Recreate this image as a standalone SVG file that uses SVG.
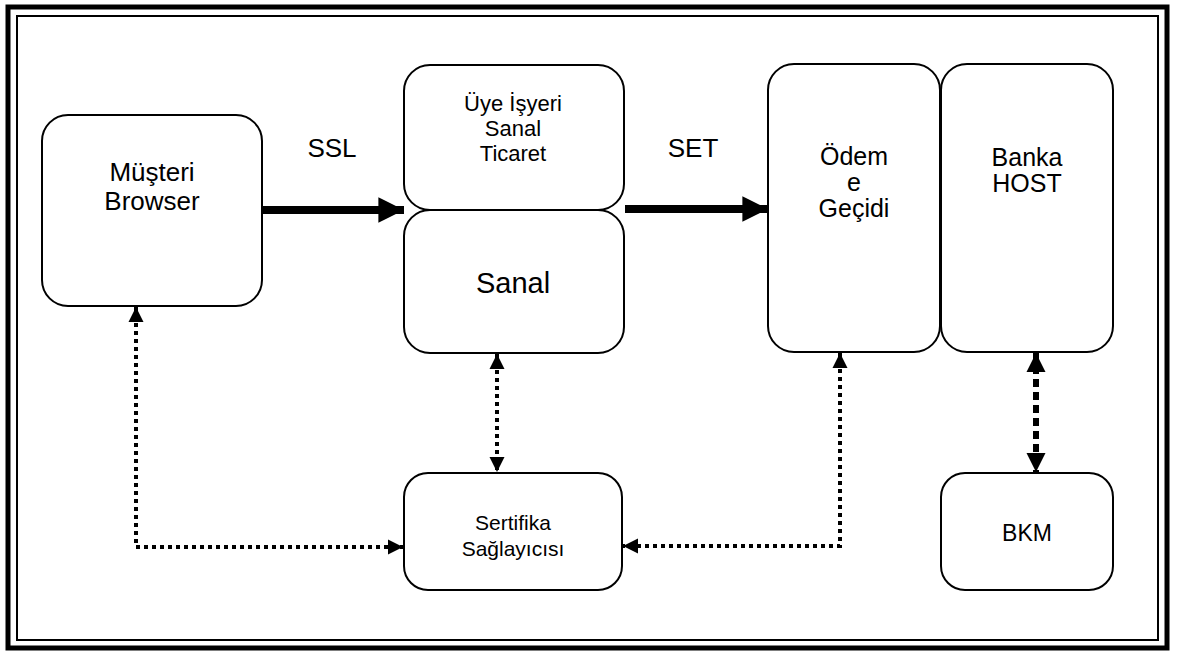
<svg xmlns="http://www.w3.org/2000/svg" width="1178" height="655" viewBox="0 0 1178 655">
  <defs>
    <style>
      .box { fill: #fff; stroke: #000; stroke-width: 2; }
      .lbl { font-family: "Liberation Sans", Arial, sans-serif; fill: #000; text-anchor: middle; }
      .dot { fill: none; stroke: #000; stroke-width: 4; stroke-dasharray: 4 4; }
      .dash { fill: none; stroke: #000; stroke-width: 6; stroke-dasharray: 8 5; }
      .thick { fill: none; stroke: #000; stroke-width: 8; }
    </style>
    <marker id="bigHead" viewBox="0 0 10 10" refX="10" refY="5" markerWidth="3.2" markerHeight="3.2" markerUnits="strokeWidth" orient="auto">
      <path d="M0,0 L10,5 L0,10 z" fill="#000"/>
    </marker>
    <marker id="dotHead" viewBox="0 0 10 10" refX="10" refY="5" markerWidth="3.8" markerHeight="3.8" markerUnits="strokeWidth" orient="auto-start-reverse">
      <path d="M0,0 L10,5 L0,10 z" fill="#000"/>
    </marker>
    <marker id="dashHead" viewBox="0 0 10 10" refX="10" refY="5" markerWidth="3.2" markerHeight="3.2" markerUnits="strokeWidth" orient="auto-start-reverse">
      <path d="M0,0 L10,5 L0,10 z" fill="#000"/>
    </marker>
  </defs>

  <rect width="1178" height="655" fill="#fff"/>

  <!-- double frame -->
  <g id="frame" fill="none" stroke="#000">
    <rect x="8" y="7" width="1159" height="641" stroke-width="5"/>
    <rect x="17" y="16" width="1141" height="624" stroke-width="2"/>
  </g>

  <g id="musteri">
    <rect class="box" x="42" y="115" width="220" height="191" rx="26"/>
    <text class="lbl" x="152" y="181" font-size="26">Müşteri</text>
    <text class="lbl" x="152" y="210" font-size="26">Browser</text>
  </g>

  <g id="uye-isyeri">
    <rect class="box" x="404" y="65" width="220" height="145" rx="26"/>
    <text class="lbl" x="513" y="111" font-size="22">Üye İşyeri</text>
    <text class="lbl" x="513" y="136" font-size="22">Sanal</text>
    <text class="lbl" x="513" y="161" font-size="22">Ticaret</text>
  </g>

  <g id="sanal">
    <rect class="box" x="404" y="210" width="220" height="143" rx="26"/>
    <text class="lbl" x="513" y="293" font-size="29">Sanal</text>
  </g>

  <g id="odeme-gecidi">
    <rect class="box" x="768" y="64" width="172" height="288" rx="26"/>
    <text class="lbl" x="854" y="165" font-size="25">Ödem</text>
    <text class="lbl" x="854" y="191" font-size="25">e</text>
    <text class="lbl" x="854" y="217" font-size="25">Geçidi</text>
  </g>

  <g id="banka-host">
    <rect class="box" x="941" y="64" width="172" height="288" rx="26"/>
    <text class="lbl" x="1027" y="166" font-size="25">Banka</text>
    <text class="lbl" x="1027" y="192" font-size="25">HOST</text>
  </g>

  <g id="sertifika">
    <rect class="box" x="404" y="473" width="218" height="117" rx="24"/>
    <text class="lbl" x="513" y="530" font-size="21">Sertifika</text>
    <text class="lbl" x="513" y="556" font-size="21">Sağlayıcısı</text>
  </g>

  <g id="bkm">
    <rect class="box" x="941" y="473" width="172" height="117" rx="24"/>
    <text class="lbl" x="1027" y="541" font-size="23">BKM</text>
  </g>

  <g id="connectors">
    <line class="thick" x1="262" y1="210" x2="404" y2="210" marker-end="url(#bigHead)"/>
    <text class="lbl" x="332" y="157" font-size="26">SSL</text>
    <line class="thick" x1="625" y1="209" x2="768" y2="209" marker-end="url(#bigHead)"/>
    <text class="lbl" x="693" y="157" font-size="26">SET</text>

    <polyline class="dot" points="136,307 136,547 403,547" marker-start="url(#dotHead)" marker-end="url(#dotHead)"/>
    <line class="dot" x1="497" y1="354" x2="497" y2="472" marker-start="url(#dotHead)" marker-end="url(#dotHead)"/>
    <polyline class="dot" points="840,353 840,546 623,546" marker-start="url(#dotHead)" marker-end="url(#dotHead)"/>
    <line class="dash" x1="1036" y1="353" x2="1036" y2="472" marker-start="url(#dashHead)" marker-end="url(#dashHead)"/>
  </g>
</svg>
